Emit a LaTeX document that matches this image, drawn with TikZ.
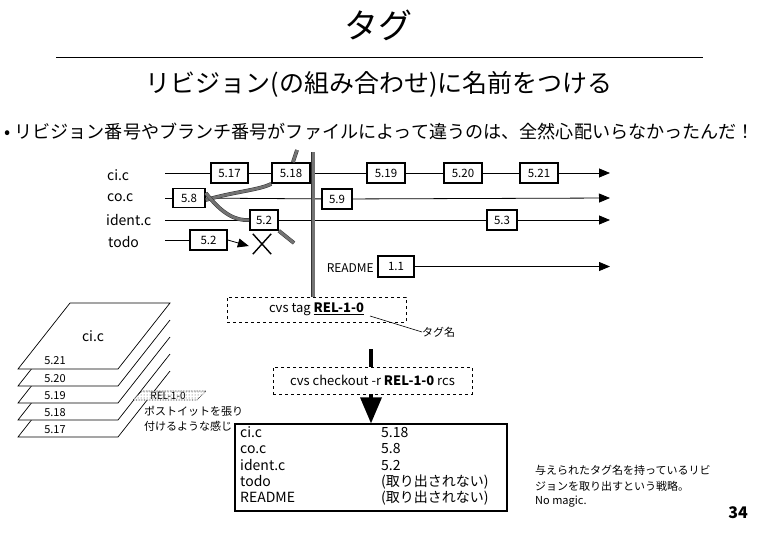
\documentclass[tikz,border=0pt]{standalone}
\usepackage{fontspec}
\setmainfont{Noto Sans CJK JP}
\usetikzlibrary{arrows.meta,shapes.misc,patterns}
\begin{document}
\begin{tikzpicture}[x=1pt,y=-1pt,
  rev/.style={draw, line width=1.6pt, fill=white, minimum width=37pt, minimum height=20pt, inner sep=0pt, font=\fontsize{11.5}{12}\selectfont},
  flabel/.style={anchor=west, inner sep=0pt, font=\fontsize{14}{16}\selectfont},
  tl/.style={line width=0.8pt},
  tla/.style={line width=0.8pt, -{Triangle[length=11pt,width=9pt]}},
  hatch/.style={draw=black!80, line width=0.5pt, double=black!55, double distance=2.8pt},
  cmd/.style={draw, dashed, line width=0.7pt, inner sep=0pt, font=\fontsize{13}{15}\selectfont},
  res/.style={anchor=west, inner sep=0pt, text height=10pt, text depth=3pt, font=\fontsize{14}{16}\selectfont},
  note/.style={anchor=west, inner sep=0pt, font=\fontsize{11}{13}\selectfont},
  sheetnum/.style={inner sep=0pt, font=\fontsize{11}{13}\selectfont}
]
\useasboundingbox (0,0) rectangle (758,536);

% ---------- header ----------
\node[font=\fontsize{34}{36}\selectfont] (title) at (378,25) {タグ};
\coordinate (hl) at (56,57); \coordinate (hr) at (703,57);
\draw[line width=0.8pt] (hl) -- (hr);
\node[font=\fontsize{25}{28}\selectfont] (subtitle) at (379,84) {リビジョン(の組み合わせ)に名前をつける};
\node[anchor=west, inner sep=0pt, font=\fontsize{18.1}{20}\selectfont] (bullet) at (4,131) {• リビジョン番号やブランチ番号がファイルによって違うのは、全然心配いらなかったんだ！};

% ---------- file labels ----------
\node[flabel] (lci) at (107,175) {ci.c};
\node[flabel] (lco) at (107,198) {co.c};
\node[flabel] (lid) at (106,220) {ident.c};
\node[flabel] (lto) at (108,242) {todo};
\node[anchor=east, inner sep=0pt, font=\fontsize{12}{14}\selectfont] (lre) at (374,268) {README};

% ---------- line coordinates ----------
\coordinate (cis) at (165,173); \coordinate (cie) at (610,173);
\coordinate (cos) at (165,198); \coordinate (coe) at (610,198);
\coordinate (ids) at (165,220); \coordinate (ide) at (610,220);
\coordinate (tos) at (165,240);
\coordinate (ree) at (610,266.5);

% ---------- revision boxes ----------
\node[rev] (r517) at (229.5,173) {5.17};
\node[rev, minimum width=38pt] (r518) at (291,173) {5.18};
\node[rev, minimum width=38pt] (r519) at (386,173) {5.19};
\node[rev, minimum width=38pt] (r520) at (463,173) {5.20};
\node[rev, minimum width=38pt] (r521) at (539,173) {5.21};
\node[rev, minimum width=32pt, minimum height=19pt] (r58) at (189,198) {5.8};
\node[rev, minimum width=30pt] (r59) at (337,199) {5.9};
\node[rev, minimum width=28pt] (r52) at (264,220) {5.2};
\node[rev, minimum width=30pt] (r53) at (502,220) {5.3};
\node[rev, minimum width=37pt] (r52t) at (208.5,240) {5.2};
\node[rev, minimum width=36pt, minimum height=21pt] (r11) at (396,266.5) {1.1};
\node[cross out, draw, line width=1.4pt, minimum width=17pt, minimum height=19pt, inner sep=0pt] (gone) at (262,244) {};

% ---------- connectors ----------
\draw[tl] (cis) -- (r517);
\draw[tl] (r517) -- (r518);
\draw[tl] (r518) -- (r519);
\draw[tl] (r519) -- (r520);
\draw[tl] (r520) -- (r521);
\draw[tla] (r521) -- (cie);
\draw[tl] (cos) -- (r58);
\draw[tl] (r58) -- (r59);
\draw[tla] (r59) -- (coe);
\draw[tl] (ids) -- (r52);
\draw[tl] (r52) -- (r53);
\draw[tla] (r53) -- (ide);
\draw[tl] (tos) -- (r52t);
\draw[line width=0.8pt, -{Triangle[length=11pt,width=9pt]}] (r52t.east) -- ([xshift=-4pt,yshift=-2pt]gone.west);
\draw[tla] (r11) -- (ree);

% ---------- tag (hatched) line ----------
\coordinate (vtop) at (313,152);
\coordinate (htop) at (297,150);
\coordinate (hbot) at (294,243);
\draw[hatch] ([yshift=-2pt]r58.east) .. controls (232,192) and (260,190) .. (r518.south west);
\draw[hatch] ([xshift=2pt]r518.north) -- (htop);
\draw[hatch] ([yshift=5pt]r58.east) .. controls (222,214) and (236,221) .. (r52.west);
\draw[hatch] (r52.south east) .. controls (286,236) .. (hbot);

% ---------- commands ----------
\node[cmd, minimum width=179pt, minimum height=25pt] (tagcmd) at (316.5,309.5) {cvs tag \textbf{\underline{REL-1-0}}};
\draw[hatch, double distance=3pt] (vtop) -- (tagcmd.north -| vtop);
\coordinate (tagul) at (370,316);
\node[anchor=west, inner sep=0pt, font=\fontsize{11}{13}\selectfont] (tagname) at (422,332) {タグ名};
\draw[line width=0.6pt] (tagul) -- (tagname.west);

\node[cmd, minimum width=199pt, minimum height=27pt] (checkout) at (372.5,380.5) {cvs checkout -r \textbf{REL-1-0} rcs};
\coordinate (thick) at (371,349);
\draw[line width=3.5pt] (thick) -- (checkout.north -| thick);

% ---------- result ----------
\node[draw, line width=1.2pt, minimum width=272pt, minimum height=87pt, inner sep=0pt] (result) at (371,467.5) {};
\draw[line width=3.5pt, -{Triangle[length=26pt,width=21pt]}] (checkout.south -| thick) -- (result.north -| thick);

\node[res] (a1) at (240,434) {ci.c};
\node[res] (a2) at (240,450) {co.c};
\node[res] (a3) at (240,467) {ident.c};
\node[res] (a4) at (240,483) {todo};
\node[res] (a5) at (240,499) {README};
\node[res] (b1) at (381,434) {5.18};
\node[res] (b2) at (381,450) {5.8};
\node[res] (b3) at (381,467) {5.2};
\node[res] (b4) at (381,483) {(取り出されない)};
\node[res] (b5) at (381,499) {(取り出されない)};

% ---------- note ----------
\node[note] (n1) at (535,470) {与えられたタグ名を持っているリビ};
\node[note] (n2) at (535,486) {ジョンを取り出すという戦略。};
\node[note] (n3) at (535,502) {No magic.};
\node[font=\bfseries\fontsize{16}{18}\selectfont, inner sep=0pt] (page) at (738,513) {34};

% ---------- stack of sheets ----------
\foreach \b in {437,420,403,386} {
  \fill[white] (18,\b) -- (118,\b) -- (170,\b-66) -- (70,\b-66) -- cycle;
  \draw[line width=0.7pt] (70,\b-66) -- (18,\b) -- (118,\b) -- (170,\b-66);
}
\draw[line width=0.7pt, fill=white] (18,369) -- (118,369) -- (170,303) -- (70,303) -- cycle;
\node[font=\fontsize{14}{16}\selectfont, inner sep=0pt] (sci) at (93,336) {ci.c};
\node[sheetnum] (s521) at (55,361) {5.21};
\node[sheetnum] (s520) at (55,379) {5.20};
\node[sheetnum] (s519) at (55,396) {5.19};
\node[sheetnum] (s518) at (55,413) {5.18};
\node[sheetnum] (s517) at (55,430) {5.17};

% post-it
\fill[white] (133,400) -- (197,400) -- (206,391) -- (142,391) -- cycle;
\path[pattern=dots, pattern color=black!70] (133,400) -- (197,400) -- (206,391) -- (142,391) -- cycle;
\draw[densely dotted, line width=0.6pt] (133,400) -- (197,400) -- (206,391) -- (142,391) -- cycle;
\node[inner sep=0pt, font=\fontsize{10}{11}\selectfont] (postit) at (168,396) {REL-1-0};
\node[note] (p1) at (144,411) {ポストイットを張り};
\node[note] (p2) at (144,426) {付けるような感じ};
\end{tikzpicture}
\end{document}
